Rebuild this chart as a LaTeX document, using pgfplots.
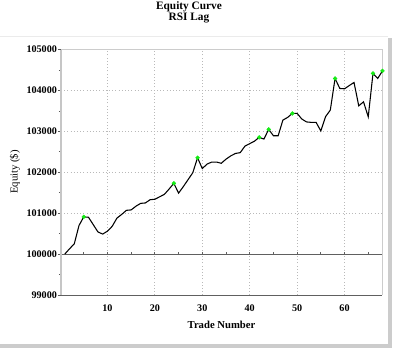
\documentclass[border=0pt]{standalone}
\usepackage{pgfplots}
\pgfplotsset{compat=1.18}
\usepackage{pgfplotstable}
\usepackage{fontspec}
\setmainfont{Liberation Serif}

\pgfplotstableread{
t v
1 100000
2 100130
3 100250
4 100700
5 100910
6 100900
7 100720
8 100540
9 100490
10 100560
11 100680
12 100880
13 100970
14 101070
15 101080
16 101170
17 101240
18 101250
19 101330
20 101340
21 101400
22 101460
23 101590
24 101730
25 101490
26 101650
27 101820
28 101990
29 102356
30 102090
31 102200
32 102250
33 102250
34 102220
35 102320
36 102400
37 102460
38 102480
39 102640
40 102700
41 102760
42 102853
43 102812
44 103049
45 102893
46 102893
47 103276
48 103341
49 103439
50 103439
51 103300
52 103230
53 103220
54 103220
55 103010
56 103360
57 103520
58 104293
59 104049
60 104040
61 104120
62 104195
63 103624
64 103722
65 103356
66 104415
67 104293
68 104478
}\equity

\pgfplotstableread{
t v
5 100910
24 101730
29 102356
42 102853
44 103049
49 103439
58 104293
66 104415
68 104478
}\peaks

\definecolor{peakgreen}{RGB}{20,235,20}

\begin{document}
\begin{tikzpicture}
\path[use as bounding box, fill=white] (0,0) rectangle (300pt,265.5pt);
% panel shadow
\fill[gray!40] ({388*0.75pt},{(354-348)*0.75pt}) rectangle ({392*0.75pt},{(354-38)*0.75pt});
\fill[gray!40] (0,{(354-348)*0.75pt}) rectangle ({392*0.75pt},{(354-344)*0.75pt});
\draw[black!8] (0,{(354-36.5)*0.75pt}) -- ({388*0.75pt},{(354-36.5)*0.75pt});
% titles
\node[font=\bfseries\fontsize{8.5}{10}\selectfont, inner sep=0pt] at ({189*0.75pt},{(354-7)*0.75pt}) {Equity Curve};
\node[font=\bfseries\fontsize{8.5}{10}\selectfont, inner sep=0pt] at ({189*0.75pt},{(354-18)*0.75pt}) {RSI Lag};
% axis labels
\node[font=\fontsize{8}{9}\selectfont, rotate=90, inner sep=0pt] at ({15*0.75pt},{(354-172)*0.75pt}) {Equity (\$)};
\node[font=\bfseries\fontsize{8}{9}\selectfont, inner sep=0pt] at ({221.5*0.75pt},{(354-325)*0.75pt}) {Trade Number};

\begin{axis}[
  at={({61*0.75pt},{59*0.75pt})}, anchor=south west,
  scale only axis, width=241.1pt, height=184.1pt,
  xmin=0.2, xmax=68, ymin=99000, ymax=105000,
  xtick={10,20,30,40,50,60},
  xticklabels={10,20,30,40,50,60},
  ytick={99000,100000,101000,102000,103000,104000,105000},
  yticklabels={99000,100000,101000,102000,103000,104000,105000},
  minor ytick={99500,100500,101500,102500,103500,104500},
  scaled ticks=false,
  ytick pos=left, tick align=outside,
  major tick length=2.25pt, minor tick length=1.5pt,
  ytick style={gray!70!black, line width=0.6pt},
  xtick style={draw=none},
  grid=major,
  major grid style={gray!55, dotted, line width=0.6pt},
  axis line style={draw=none},
  tick label style={font=\bfseries\fontsize{7.6}{8}\selectfont},
  yticklabel style={inner sep=0.6pt},
  xticklabel style={inner sep=0pt, yshift=-4.5pt},
  clip=false,
]
\draw[gray!75!black, line width=0.7pt] (axis cs:0.2,100000) -- (axis cs:68,100000);
\pgfplotsinvokeforeach{5,10,15,20,25,30,35,40,45,50,55,60,65}{
  \draw[gray!75!black, line width=0.6pt] (axis cs:#1,100000) -- ([yshift=1.6pt]axis cs:#1,100000);
}
\draw[gray!45, line width=1.4pt] (rel axis cs:0,0) -- (rel axis cs:0,1);
\draw[gray!40, line width=1pt] (rel axis cs:0,1) -- (rel axis cs:1,1) -- (rel axis cs:1,0);
\draw[gray!75!black, line width=0.7pt] (rel axis cs:0,0) -- (rel axis cs:1,0);
\addplot[black, line width=0.8pt, mark=none] table[x=t, y=v] {\equity};
\addplot[only marks, mark=*, mark size=1.4pt, color=peakgreen, draw=none] table[x=t, y=v] {\peaks};
\end{axis}
\end{tikzpicture}
\end{document}
